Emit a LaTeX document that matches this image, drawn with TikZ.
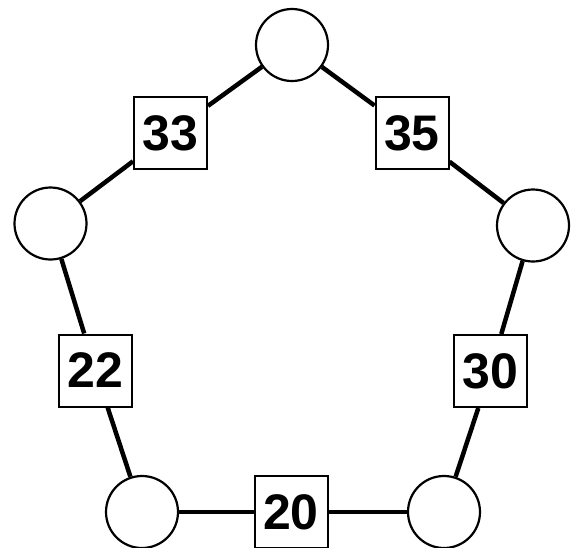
\documentclass[tikz,border=0pt]{standalone}
\usepackage{fontspec}
\setmainfont{Liberation Sans}
\begin{document}
\begin{tikzpicture}[x=1pt,y=-1pt,
  vert/.style={circle,draw,line width=2.2pt,fill=white,minimum size=72pt,inner sep=0pt},
  wbox/.style={rectangle,draw,line width=2pt,fill=white,minimum width=73pt,minimum height=72pt,inner sep=0pt,font=\fontsize{50}{58}\selectfont\bfseries},
  edge/.style={line width=4.5pt}]
\useasboundingbox (0,0) rectangle (584,547);
\node[vert] (t) at (292,45) {};
\node[vert] (l) at (50.5,223.5) {};
\node[vert] (r) at (533,225.5) {};
\node[vert] (bl) at (142,512) {};
\node[vert] (br) at (444,512) {};
\node[wbox] (b33) at (170.5,133) {33};
\node[wbox] (b35) at (412,133) {35};
\node[wbox] (b22) at (95.5,370.5) {22};
\node[wbox] (b30) at (490.5,371) {30};
\node[wbox] (b20) at (291,512) {20};
\draw[edge] (t) -- (b33) (b33) -- (l);
\draw[edge] (t) -- (b35) (b35) -- (r);
\draw[edge] (l) -- (b22) (b22) -- (bl);
\draw[edge] (r) -- (b30) (b30) -- (br);
\draw[edge] (bl) -- (b20) (b20) -- (br);
\end{tikzpicture}
\end{document}
